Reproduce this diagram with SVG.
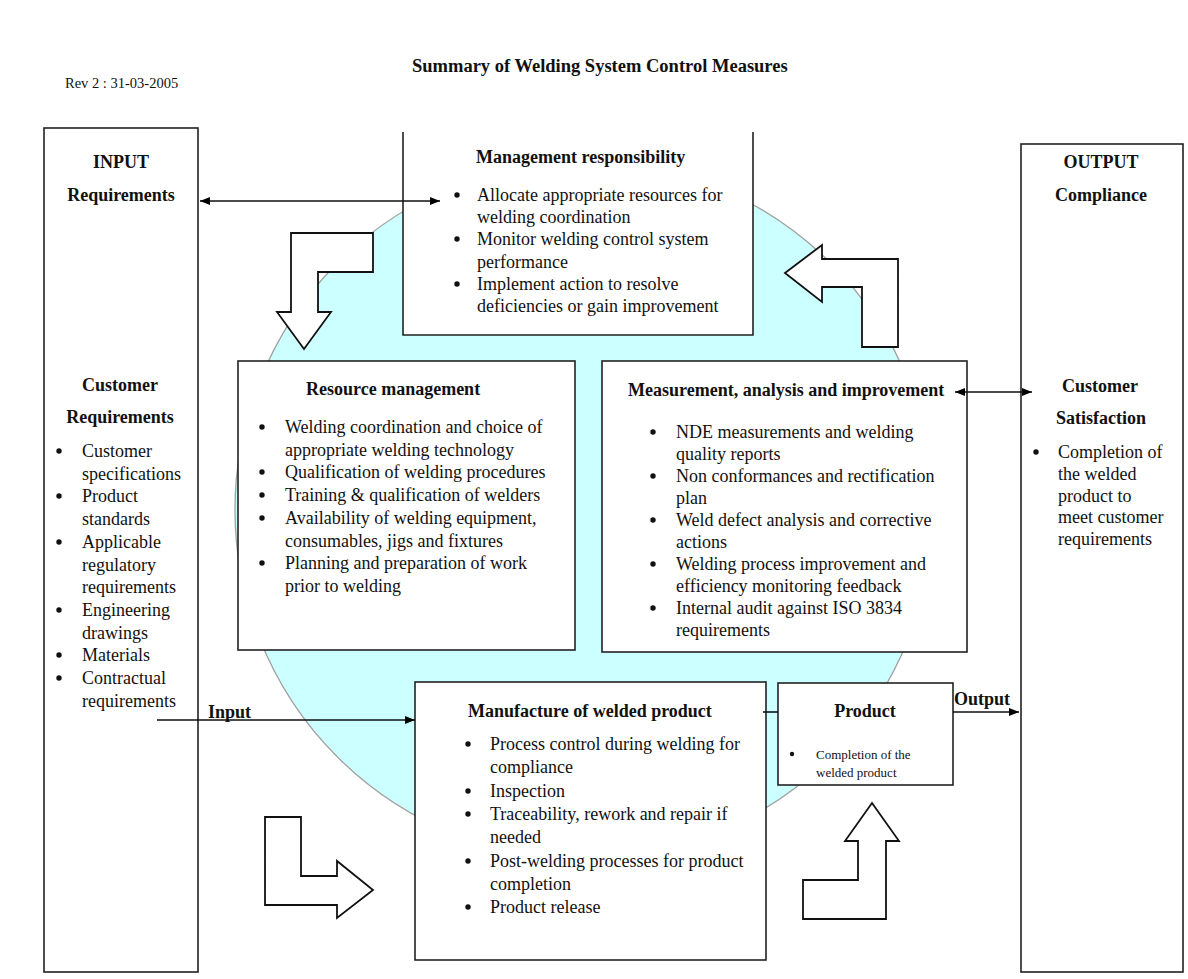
<svg xmlns="http://www.w3.org/2000/svg" width="1188" height="979" viewBox="0 0 1188 979">
  <defs>
    <marker id="ah" viewBox="0 0 10 8" refX="10" refY="4" markerWidth="10" markerHeight="8" markerUnits="userSpaceOnUse" orient="auto-start-reverse">
      <path d="M0,0 L10,4 L0,8 Z" fill="#000"/>
    </marker>
    <style>
      text { font-family: "Liberation Serif", "Times New Roman", serif; fill: #111; }
      .t { font-size: 18px; }
      .b { font-size: 18px; font-weight: bold; }
      .s { font-size: 13px; }
      .box { fill: #fff; stroke: #222; stroke-width: 1.6; }
      .edge { fill: none; stroke: #222; stroke-width: 1.6; }
      .blk { fill: #fff; stroke: #111; stroke-width: 1.8; stroke-linejoin: miter; }
      .dot { fill: #111; }
      .conn { fill: none; stroke: #111; stroke-width: 1.6; }
      .c { text-anchor: middle; }
    </style>
  </defs>

  <rect width="1188" height="979" fill="#fff"/>

  <!-- header -->
  <text x="412" y="72" style="font-size:18.5px;font-weight:bold">Summary of Welding System Control Measures</text>
  <text x="65" y="88" style="font-size:14.5px">Rev 2 : 31-03-2005</text>

  <!-- process cycle background -->
  <circle id="cycle" cx="584" cy="510" r="349" fill="#ccffff" stroke="#a0a0a0" stroke-width="1.3"/>

  <!-- input column -->
  <g id="input">
    <rect class="box" x="44" y="128" width="154" height="844"/>
    <text class="b c" x="121" y="168">INPUT</text>
    <text class="b c" x="121" y="201">Requirements</text>
    <text class="b c" x="120" y="391">Customer</text>
    <text class="b c" x="120" y="423">Requirements</text>
    <g class="dot">
      <circle cx="59" cy="451" r="2.7"/>
      <circle cx="59" cy="496" r="2.7"/>
      <circle cx="59" cy="542" r="2.7"/>
      <circle cx="59" cy="610" r="2.7"/>
      <circle cx="59" cy="655" r="2.7"/>
      <circle cx="59" cy="678" r="2.7"/>
    </g>
    <text class="t">
      <tspan x="82" y="457">Customer</tspan>
      <tspan x="82" y="480">specifications</tspan>
      <tspan x="82" y="502">Product</tspan>
      <tspan x="82" y="525">standards</tspan>
      <tspan x="82" y="548">Applicable</tspan>
      <tspan x="82" y="571">regulatory</tspan>
      <tspan x="82" y="593">requirements</tspan>
      <tspan x="82" y="616">Engineering</tspan>
      <tspan x="82" y="639">drawings</tspan>
      <tspan x="82" y="661">Materials</tspan>
      <tspan x="82" y="684">Contractual</tspan>
      <tspan x="82" y="707">requirements</tspan>
    </text>
  </g>

  <!-- output column -->
  <g id="output">
    <rect class="box" x="1021" y="144" width="162" height="828"/>
    <text class="b c" x="1101" y="168">OUTPUT</text>
    <text class="b c" x="1101" y="201">Compliance</text>
    <text class="b c" x="1100" y="392">Customer</text>
    <text class="b c" x="1101" y="424">Satisfaction</text>
    <circle class="dot" cx="1036" cy="452" r="2.7"/>
    <text class="t">
      <tspan x="1058" y="458">Completion of</tspan>
      <tspan x="1058" y="480">the welded</tspan>
      <tspan x="1058" y="502">product to</tspan>
      <tspan x="1058" y="523">meet customer</tspan>
      <tspan x="1058" y="545">requirements</tspan>
    </text>
  </g>

  <!-- management responsibility (top edge left open) -->
  <g id="management">
    <path class="box" d="M403,132 V335 H753 V132"/>
    <text class="b" x="476" y="163">Management responsibility</text>
    <g class="dot">
      <circle cx="457" cy="195" r="2.7"/>
      <circle cx="457" cy="239" r="2.7"/>
      <circle cx="457" cy="284" r="2.7"/>
    </g>
    <text class="t">
      <tspan x="477" y="201">Allocate appropriate resources for</tspan>
      <tspan x="477" y="223">welding coordination</tspan>
      <tspan x="477" y="245">Monitor welding control system</tspan>
      <tspan x="477" y="268">performance</tspan>
      <tspan x="477" y="290">Implement action to resolve</tspan>
      <tspan x="477" y="312">deficiencies or gain improvement</tspan>
    </text>
  </g>

  <!-- resource management -->
  <g id="resource">
    <rect class="box" x="238" y="361" width="337" height="289"/>
    <text class="b" x="306" y="395">Resource management</text>
    <g class="dot">
      <circle cx="262" cy="427" r="2.7"/>
      <circle cx="262" cy="472" r="2.7"/>
      <circle cx="262" cy="495" r="2.7"/>
      <circle cx="262" cy="518" r="2.7"/>
      <circle cx="262" cy="563" r="2.7"/>
    </g>
    <text class="t">
      <tspan x="285" y="433">Welding coordination and choice of</tspan>
      <tspan x="285" y="456">appropriate welding technology</tspan>
      <tspan x="285" y="478">Qualification of welding procedures</tspan>
      <tspan x="285" y="501">Training &amp; qualification of welders</tspan>
      <tspan x="285" y="524">Availability of welding equipment,</tspan>
      <tspan x="285" y="547">consumables, jigs and fixtures</tspan>
      <tspan x="285" y="569">Planning and preparation of work</tspan>
      <tspan x="285" y="592">prior to welding</tspan>
    </text>
  </g>

  <!-- measurement, analysis and improvement -->
  <g id="measurement">
    <rect class="box" x="602" y="361" width="365" height="291"/>
    <text class="b" x="628" y="396">Measurement, analysis and improvement</text>
    <g class="dot">
      <circle cx="653" cy="432" r="2.7"/>
      <circle cx="653" cy="476" r="2.7"/>
      <circle cx="653" cy="520" r="2.7"/>
      <circle cx="653" cy="564" r="2.7"/>
      <circle cx="653" cy="608" r="2.7"/>
    </g>
    <text class="t">
      <tspan x="676" y="438">NDE measurements and welding</tspan>
      <tspan x="676" y="460">quality reports</tspan>
      <tspan x="676" y="482">Non conformances and rectification</tspan>
      <tspan x="676" y="504">plan</tspan>
      <tspan x="676" y="526">Weld defect analysis and corrective</tspan>
      <tspan x="676" y="548">actions</tspan>
      <tspan x="676" y="570">Welding process improvement and</tspan>
      <tspan x="676" y="592">efficiency monitoring feedback</tspan>
      <tspan x="676" y="614">Internal audit against ISO 3834</tspan>
      <tspan x="676" y="636">requirements</tspan>
    </text>
  </g>

  <!-- manufacture of welded product -->
  <g id="manufacture">
    <rect class="box" x="415" y="682" width="351" height="278"/>
    <text class="b" x="468" y="717">Manufacture of welded product</text>
    <g class="dot">
      <circle cx="468" cy="744" r="2.7"/>
      <circle cx="468" cy="791" r="2.7"/>
      <circle cx="468" cy="814" r="2.7"/>
      <circle cx="468" cy="861" r="2.7"/>
      <circle cx="468" cy="907" r="2.7"/>
    </g>
    <text class="t">
      <tspan x="490" y="750">Process control during welding for</tspan>
      <tspan x="490" y="773">compliance</tspan>
      <tspan x="490" y="797">Inspection</tspan>
      <tspan x="490" y="820">Traceability, rework and repair if</tspan>
      <tspan x="490" y="843">needed</tspan>
      <tspan x="490" y="867">Post-welding processes for product</tspan>
      <tspan x="490" y="890">completion</tspan>
      <tspan x="490" y="913">Product release</tspan>
    </text>
  </g>

  <!-- product -->
  <g id="product">
    <rect class="box" x="778" y="683" width="175" height="102"/>
    <text class="b c" x="865" y="717">Product</text>
    <circle class="dot" cx="792" cy="754" r="2.2"/>
    <text class="s">
      <tspan x="816" y="759">Completion of the</tspan>
      <tspan x="816" y="777">welded product</tspan>
    </text>
  </g>

  <!-- block arrows showing the cycle direction -->
  <g id="cycle-arrows">
    <path class="blk" d="M291,233 L373,233 L373,272 L318,272 L318,312 L331,312 L304,349 L277,312 L291,312 Z"/>
    <path class="blk" d="M785,273 L822,245 L822,259 L898,259 L898,347 L862,347 L862,287 L822,287 L822,302 Z"/>
    <path class="blk" d="M265,817 L301,817 L301,876 L337,876 L337,861 L373,890 L337,918 L337,905 L265,905 Z"/>
    <path class="blk" d="M872,803 L899,841 L886,841 L886,919 L803,919 L803,880 L858,880 L858,841 L845,841 Z"/>
  </g>

  <!-- connectors -->
  <g id="connectors">
    <line class="conn" x1="200" y1="201" x2="440" y2="201" marker-start="url(#ah)" marker-end="url(#ah)"/>
    <line class="conn" x1="955" y1="392" x2="1032" y2="392" marker-start="url(#ah)" marker-end="url(#ah)"/>
    <line class="conn" x1="157" y1="720" x2="415" y2="720" marker-end="url(#ah)"/>
    <line class="conn" x1="763" y1="712" x2="778" y2="712"/>
    <line class="conn" x1="953" y1="712" x2="1019" y2="712" marker-end="url(#ah)"/>
    <text class="b" x="208" y="718">Input</text>
    <text class="b" x="954" y="705">Output</text>
  </g>
</svg>
